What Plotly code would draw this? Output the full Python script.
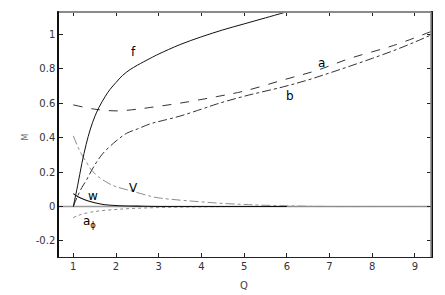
import plotly.graph_objects as go

# ---- data ----
q_f = [1.0, 1.1, 1.2, 1.3, 1.4, 1.5, 1.6, 1.75, 1.86, 2.0, 2.15, 2.33, 2.5, 2.8, 3.0, 3.5, 4.0, 4.5, 5.0, 5.5, 6.0]
m_f = [0.0, 0.12, 0.25, 0.36, 0.45, 0.52, 0.575, 0.64, 0.68, 0.72, 0.76, 0.795, 0.82, 0.86, 0.885, 0.94, 0.985, 1.025, 1.06, 1.095, 1.13]

q_a = [1.0, 1.5, 2.0, 2.5, 2.8, 3.5, 4.36, 5.0, 5.92, 6.7, 7.48, 8.5, 9.37]
m_a = [0.59, 0.565, 0.555, 0.565, 0.575, 0.60, 0.638, 0.67, 0.735, 0.79, 0.86, 0.935, 1.015]

q_b = [1.0, 1.1, 1.2, 1.3, 1.43, 1.55, 1.7, 2.0, 2.25, 2.5, 2.8, 3.03, 3.5, 4.0, 4.36, 5.0, 5.92, 6.5, 7.0, 7.48, 8.0, 8.5, 9.0, 9.37]
m_b = [0.0, 0.06, 0.11, 0.15, 0.21, 0.26, 0.31, 0.38, 0.425, 0.45, 0.48, 0.495, 0.525, 0.565, 0.595, 0.64, 0.695, 0.735, 0.775, 0.815, 0.86, 0.905, 0.955, 0.995]

q_v = [1.0, 1.1, 1.2, 1.3, 1.43, 1.6, 1.86, 2.0, 2.37, 2.8, 3.0, 3.5, 4.0, 4.5, 5.0, 5.4, 6.0, 7.0, 8.0, 9.37]
m_v = [0.41, 0.35, 0.30, 0.26, 0.21, 0.17, 0.13, 0.115, 0.09, 0.06, 0.05, 0.037, 0.027, 0.018, 0.012, 0.008, 0.004, 0.0, 0.0, 0.0]

q_w = [1.0, 1.1, 1.2, 1.3, 1.5, 1.7, 2.0, 2.5, 3.0, 4.0, 6.0]
m_w = [0.075, 0.058, 0.046, 0.036, 0.022, 0.012, 0.006, 0.002, 0.0, 0.0, 0.0]

q_aphi = [1.0, 1.1, 1.2, 1.4, 1.63, 2.0, 2.33, 3.0, 4.0, 5.0, 7.0, 9.37]
m_aphi = [-0.065, -0.053, -0.045, -0.033, -0.025, -0.017, -0.012, -0.006, -0.002, 0.0, 0.0, 0.0]

x_ticks = [1, 2, 3, 4, 5, 6, 7, 8, 9]
y_ticks = [-0.2, 0, 0.2, 0.4, 0.6, 0.8, 1]
y_tick_labels = ["-0.2", "0", "0.2", "0.4", "0.6", "0.8", "1"]

x_range = [0.665, 9.375]
y_range = [-0.293, 1.129]

fig = go.Figure()

# zero axis line
fig.add_trace(go.Scatter(x=x_range, y=[0, 0], mode="lines",
                         line=dict(color="#9a9a9a", width=1.6), hoverinfo="skip"))

fig.add_trace(go.Scatter(x=q_aphi, y=m_aphi, mode="lines",
                         line=dict(color="#8a8a8a", width=1, dash="dot", shape="spline")))
fig.add_trace(go.Scatter(x=q_v, y=m_v, mode="lines",
                         line=dict(color="#8c8c8c", width=1, dash="dashdot", shape="spline")))
fig.add_trace(go.Scatter(x=q_b, y=m_b, mode="lines",
                         line=dict(color="#333333", width=1, dash="dashdot", shape="spline")))
fig.add_trace(go.Scatter(x=q_a, y=m_a, mode="lines",
                         line=dict(color="#333333", width=1, dash="dash", shape="spline")))
fig.add_trace(go.Scatter(x=q_w, y=m_w, mode="lines",
                         line=dict(color="#111111", width=1.1, shape="spline")))
fig.add_trace(go.Scatter(x=q_f, y=m_f, mode="lines",
                         line=dict(color="#111111", width=1, shape="spline")))

lab_font = dict(family="DejaVu Sans", size=12, color="#000000")
labels = [("f", 2.42, 0.895), ("a", 6.82, 0.835), ("b", 6.08, 0.64),
          ("V", 2.42, 0.105), ("w", 1.45, 0.062), ("a<sub>ϕ</sub>", 1.38, -0.09)]
for txt, x, y in labels:
    fig.add_annotation(x=x, y=y, text=txt, showarrow=False, font=lab_font)

# axis titles
fig.add_annotation(xref="paper", yref="paper", x=0.497, y=-0.118, yanchor="middle",
                   text="Q", showarrow=False,
                   font=dict(family="DejaVu Sans", size=10, color="#444444"))
fig.add_annotation(xref="paper", yref="paper", x=-0.1075, y=0.49, textangle=-90,
                   text="M", showarrow=False,
                   font=dict(family="DejaVu Sans", size=8, color="#666666"))

tick_font = dict(family="DejaVu Sans", size=10, color="#333333")
fig.update_xaxes(range=x_range, tickvals=x_ticks, ticks="inside", ticklen=4,
                 showgrid=False, zeroline=False, showline=True, linecolor="#222222",
                 linewidth=1.3, mirror="ticks", tickcolor="#222222", tickfont=tick_font,
                 automargin=False)
fig.update_yaxes(range=y_range, tickvals=y_ticks, ticktext=y_tick_labels, ticks="inside",
                 ticklen=4, showgrid=False, zeroline=False, showline=True,
                 linecolor="#111111", linewidth=1.5, mirror="ticks", tickcolor="#222222",
                 tickfont=tick_font, automargin=False)

# gray top and right borders
fig.add_shape(type="line", xref="paper", yref="paper", x0=0, x1=1, y0=1, y1=1,
              line=dict(color="#8a8a8a", width=2))
fig.add_shape(type="line", xref="paper", yref="paper", x0=1, x1=1, y0=0, y1=1,
              line=dict(color="#8a8a8a", width=1.6))

# page body adds an 8px offset, so the figure is 8px smaller and margins shifted
fig.update_layout(width=437, height=287, showlegend=False,
                  margin=dict(l=51, r=14, t=4, b=38),
                  plot_bgcolor="white", paper_bgcolor="white")

fig.write_html("out.html")
